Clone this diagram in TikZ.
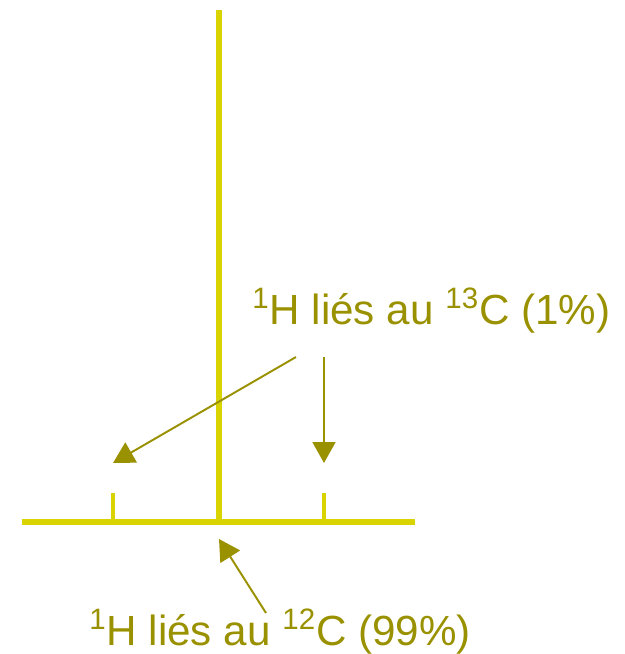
\documentclass[tikz,border=0pt]{standalone}
\usepackage{fontspec}
\setmainfont{Liberation Sans}
\usepackage{xcolor}
\usetikzlibrary{positioning, arrows.meta}

\definecolor{specyellow}{HTML}{D9D400}
\definecolor{labelolive}{HTML}{999100}

\begin{document}
\begin{tikzpicture}[x=0.02cm, y=-0.02cm,
  specline/.style={draw=specyellow, line width=3.2pt},
  tickline/.style={draw=specyellow, line width=2.6pt},
  pointer/.style={-{Triangle[length=0.42cm, width=0.46cm]}, draw=labelolive, fill=labelolive, line width=1.1pt},
  lbl/.style={text=labelolive, font=\fontsize{24}{28}\selectfont, inner sep=0pt, anchor=base west}]

  \useasboundingbox (0,0) rectangle (625,654);

  % Spectrum: axis, central peak and satellites
  \coordinate (axisL) at (22,522);
  \coordinate (axisR) at (415,522);
  \coordinate (peakTop) at (219,10);
  \coordinate (peakBot) at (219,523);
  \coordinate (satL) at (113,493);
  \coordinate (satR) at (324,493);
  \draw[specline] (axisL) -- (axisR);
  \draw[specline] (peakBot) -- (peakTop);
  \draw[tickline] (satL) -- (satL |- axisL);
  \draw[tickline] (satR) -- (satR |- axisL);

  % Labels
  \node[lbl] (lblC13) at (252,324) {\textsuperscript{1}H liés au \textsuperscript{13}C (1\%)};
  \node[lbl] (lblC12) at (89,645) {\textsuperscript{1}H liés au \textsuperscript{12}C (99\%)};

  % Arrows to the peaks
  \coordinate (fromL) at (296,357);
  \coordinate (fromR) at (324,357);
  \coordinate (fromB) at (266,613);
  \coordinate (toL) at (113,463);
  \coordinate (toR) at (324,463);
  \coordinate (toB) at (219,539);
  \draw[pointer] (fromL) -- (toL);
  \draw[pointer] (fromR) -- (toR);
  \draw[pointer] (fromB) -- (toB);
\end{tikzpicture}
\end{document}
